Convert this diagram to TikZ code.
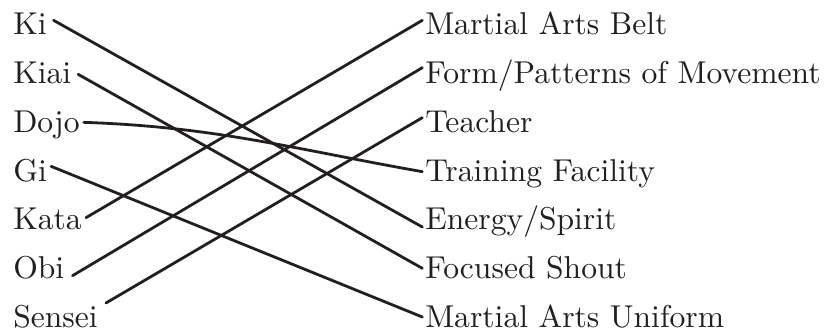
\documentclass[tikz,border=0pt]{standalone}
\usepackage{fontspec}
\usepackage{tikz}

\newfontfamily\wordfont{lmroman10-regular.otf}
\definecolor{inkdark}{HTML}{231F20}

\tikzset{
    word/.style={anchor=base west, inner sep=0pt, text=inkdark,
        font=\wordfont\fontsize{23.7}{28}\selectfont},
    link/.style={line width=2.1pt, inkdark, line cap=round}
}

\begin{document}
\begin{tikzpicture}[x=0.75pt, y=-0.75pt]
    \useasboundingbox (0,0) rectangle (836,334);

    % Begriffe links
    \foreach \n/\t [count=\i from 0] in {ki/Ki, kiai/Kiai, dojo/Dojo, gi/Gi,
        kata/Kata, obi/Obi, sensei/Sensei} {
        \node[word] (\n) at (13, 35+48.67*\i) {\t};
    }

    % Bedeutungen rechts
    \foreach \n/\t [count=\i from 0] in {belt/Martial Arts Belt,
        form/Form\slash Patterns of Movement, teacher/Teacher,
        facility/Training Facility, energy/Energy\slash Spirit,
        shout/Focused Shout, uniform/Martial Arts Uniform} {
        \node[word] (\n) at (425, 35+48.67*\i) {\t};
    }

    % Verbindungslinien
    \foreach \a/\b/\la/\lb/\gap in {ki/energy/11/2/5, kiai/shout/7/7.5/5,
        gi/uniform/11/7.5/3, kata/belt/9/11/3, obi/form/2/12/6,
        sensei/teacher/18/11/6} {
        \draw[link] ([xshift=\gap pt, yshift=\la pt]\a.base east)
            -- ([xshift=-2pt, yshift=\lb pt]\b.base west);
    }
    \draw[link] ([xshift=3pt, yshift=7.5pt]dojo.base east)
        to[out=-2, in=170] ([xshift=-2pt, yshift=7pt]facility.base west);

\end{tikzpicture}
\end{document}
